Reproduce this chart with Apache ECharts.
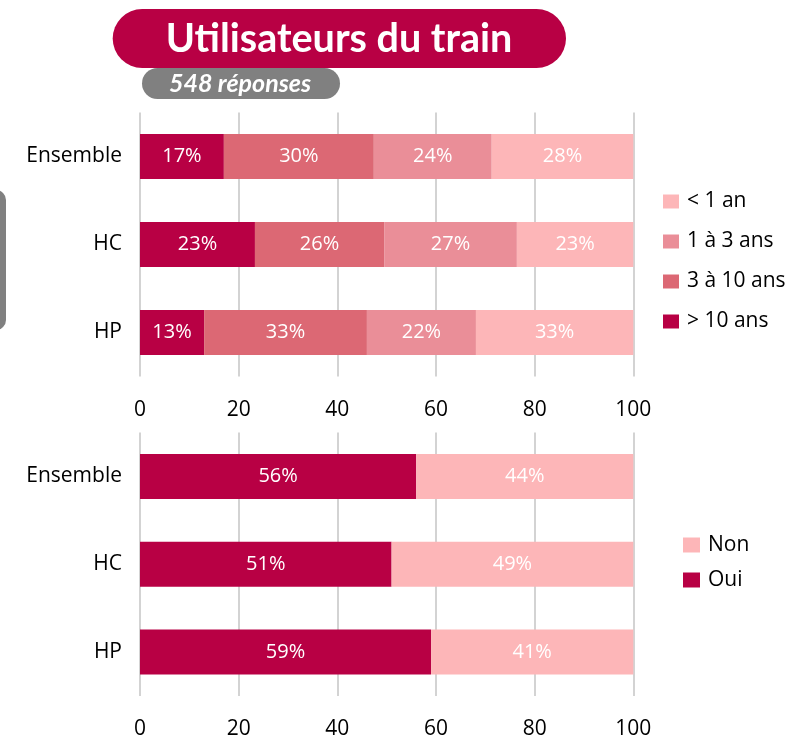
<!DOCTYPE html>
<html>
<head>
<meta charset="utf-8">
<script src="https://cdn.jsdelivr.net/npm/echarts@6/dist/echarts.min.js"></script>
<style>
  html, body { margin: 0; padding: 0; background: #fff; }
  #chart { width: 801px; height: 740px; }
</style>
</head>
<body>
<div id="chart"></div>
<script>
const categories = ['Ensemble', 'HC', 'HP'];

// ancienneté (top chart)
const over10 = [17.0, 23.3, 13.0];
const from3to10 = [30.4, 26.2, 33.0];
const from1to3 = [23.9, 26.9, 22.1];
const under1 = [28.7, 23.6, 31.9];
// printed percentages
const over10Labels = ['17%', '23%', '13%'];
const from3to10Labels = ['30%', '26%', '33%'];
const from1to3Labels = ['24%', '27%', '22%'];
const under1Labels = ['28%', '23%', '33%'];

// oui / non (bottom chart)
const oui = [56, 51, 59];
const non = [44, 49, 41];

const axisTicks = [0, 20, 40, 60, 80, 100];

const FONT = 'Open Sans';
const RED = '#B80044';
const C3_10 = '#DC6874';
const C1_3 = '#EA8E98';
const PINK = '#FDB6B8';

const chart = echarts.init(document.getElementById('chart'));

const xAxisBase = (gridIndex) => ({
  gridIndex,
  type: 'value',
  min: axisTicks[0],
  max: axisTicks[axisTicks.length - 1],
  interval: axisTicks[1] - axisTicks[0],
  axisLine: { show: false },
  axisTick: { show: false },
  splitLine: { lineStyle: { color: '#C4C4C4', width: 1.5 } },
  axisLabel: { color: '#000', fontFamily: FONT, fontSize: 21, margin: 23 }
});

const yAxisBase = (gridIndex) => ({
  gridIndex,
  type: 'category',
  inverse: true,
  data: categories,
  axisLine: { show: false },
  axisTick: { show: false },
  axisLabel: { color: '#000', fontFamily: FONT, fontSize: 21, margin: 18, padding: [4, 0, 0, 0] }
});

const barSeries = (name, values, labels, color, idx, stack) => ({
  name,
  type: 'bar',
  stack,
  xAxisIndex: idx,
  yAxisIndex: idx,
  data: values,
  barWidth: 45,
  itemStyle: { color },
  label: {
    show: true,
    position: 'inside',
    color: '#fff',
    fontFamily: FONT,
    fontSize: 20,
    padding: [3, 0, 0, 0],
    formatter: (p) => labels[p.dataIndex]
  }
});

const pct = (arr) => arr.map((v) => v + '%');

const option = {
  animation: false,
  backgroundColor: '#fff',
  grid: [
    { left: 140, right: 167.7, top: 112.5, height: 264 },
    { left: 140, right: 167.7, top: 432.5, height: 264 }
  ],
  xAxis: [xAxisBase(0), xAxisBase(1)],
  yAxis: [yAxisBase(0), yAxisBase(1)],
  legend: [
    {
      orient: 'vertical',
      left: 663,
      top: 191,
      padding: 0,
      itemGap: 19,
      itemWidth: 16,
      itemHeight: 14,
      icon: 'rect',
      data: ['< 1 an', '1 à 3 ans', '3 à 10 ans', '> 10 ans'],
      textStyle: { color: '#000', fontFamily: FONT, fontSize: 21, padding: [0, 0, 0, 3] }
    },
    {
      orient: 'vertical',
      left: 683,
      top: 534.5,
      padding: 0,
      itemGap: 14,
      itemWidth: 17,
      itemHeight: 15,
      icon: 'rect',
      data: ['Non', 'Oui'],
      textStyle: { color: '#000', fontFamily: FONT, fontSize: 21, padding: [0, 0, 0, 3] }
    }
  ],
  graphic: [
    {
      type: 'rect',
      left: -20,
      top: 190,
      shape: { width: 26, height: 140, r: 10 },
      style: { fill: '#808080' }
    },
    {
      type: 'rect',
      left: 142,
      top: 68,
      shape: { width: 198, height: 31, r: 15.5 },
      style: { fill: '#808080' }
    },
    {
      type: 'rect',
      left: 112.7,
      top: 9,
      shape: { width: 453.3, height: 59, r: 29.5 },
      style: { fill: RED }
    },
    {
      type: 'text',
      x: 339,
      y: 39,
      style: {
        text: 'Utilisateurs du train',
        fill: '#fff',
        font: 'bold 39.5px Lato',
        textAlign: 'center',
        textVerticalAlign: 'middle'
      }
    },
    {
      type: 'text',
      x: 240,
      y: 84,
      style: {
        text: '548 réponses',
        fill: '#fff',
        font: 'italic bold 25px Lato',
        textAlign: 'center',
        textVerticalAlign: 'middle'
      }
    }
  ],
  series: [
    barSeries('> 10 ans', over10, over10Labels, RED, 0, 'age'),
    barSeries('3 à 10 ans', from3to10, from3to10Labels, C3_10, 0, 'age'),
    barSeries('1 à 3 ans', from1to3, from1to3Labels, C1_3, 0, 'age'),
    barSeries('< 1 an', under1, under1Labels, PINK, 0, 'age'),
    barSeries('Oui', oui, pct(oui), RED, 1, 'rep'),
    barSeries('Non', non, pct(non), PINK, 1, 'rep')
  ]
};

chart.setOption(option);
</script>
</body>
</html>
